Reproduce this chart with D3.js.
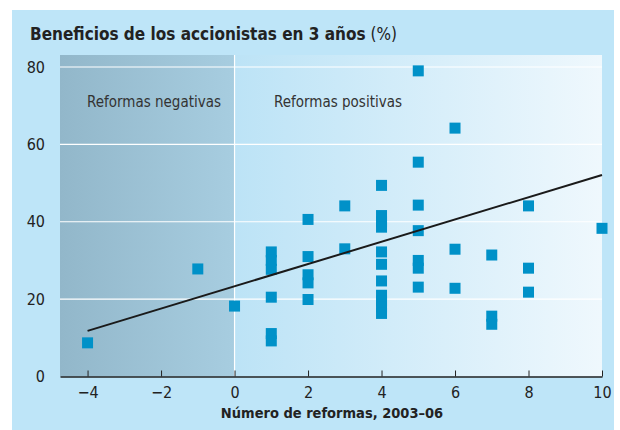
<!DOCTYPE html>
<html>
<head>
<meta charset="utf-8">
<script src="https://cdn.jsdelivr.net/npm/d3@7"></script>
<style>
  html, body { margin: 0; padding: 0; background: #fff; }
  svg { display: block; }
  text { font-family: "Liberation Sans Narrow", "DejaVu Sans Condensed", "Open Sans", sans-serif; fill: #222; }
</style>
</head>
<body>
<svg id="chart" width="620" height="430"></svg>
<script>
// Número de reformas (eje x) para cada punto
const reformas = [
  -4, -1, 0,
  1, 1, 1, 1, 1, 1,
  2, 2, 2, 2, 2,
  3, 3,
  4, 4, 4, 4, 4, 4, 4, 4, 4, 4, 4,
  5, 5, 5, 5, 5, 5, 5,
  6, 6, 6,
  7, 7, 7,
  8, 8, 8,
  10
];
// Beneficios de los accionistas en 3 años (%)
const beneficios = [
  8.7, 27.8, 18.2,
  32.2, 30, 27.7, 20.5, 11.1, 9.2,
  40.6, 31, 26.3, 24.2, 19.9,
  44.1, 33,
  49.4, 41.6, 40, 38.6, 32.2, 29, 24.7, 21, 19.5, 18, 16.3,
  79, 55.4, 44.3, 37.7, 30, 28, 23.1,
  64.2, 32.9, 22.8,
  31.4, 15.6, 13.5,
  44.1, 28, 21.8,
  38.3
];
// Recta de tendencia (extremos)
const tendenciaX = [-4, 10];
const tendenciaY = [11.8, 52.1];

const xTicks = [-4, -2, 0, 2, 4, 6, 8, 10];
const yTicks = [0, 20, 40, 60, 80];

const svg = d3.select('#chart');
const margin = { left: 60, right: 18, top: 55, bottom: 54 };
const W = 620, H = 430;

// Fondo azul
svg.append('rect')
  .attr('x', 12).attr('y', 10)
  .attr('width', 602).attr('height', 420)
  .attr('fill', '#bee5f8');

const defs = svg.append('defs');
const gNeg = defs.append('linearGradient').attr('id', 'gNeg');
gNeg.append('stop').attr('offset', '0%').attr('stop-color', '#92b7ca');
gNeg.append('stop').attr('offset', '100%').attr('stop-color', '#a7cde0');
const gPos = defs.append('linearGradient').attr('id', 'gPos');
gPos.append('stop').attr('offset', '0%').attr('stop-color', '#bce3f6');
gPos.append('stop').attr('offset', '100%').attr('stop-color', '#eff8fd');

// Escalas
const x = d3.scaleLinear()
  .domain([-4.75, 10])
  .range([margin.left, W - margin.right]);
const y = d3.scaleLinear()
  .domain([0, 80])
  .range([376.5, 67]);
const plotTop = margin.top;

// Zonas de reformas negativas y positivas
svg.append('rect')
  .attr('x', x(-4.75)).attr('y', plotTop)
  .attr('width', x(0) - x(-4.75)).attr('height', y(0) - plotTop)
  .attr('fill', 'url(#gNeg)');
svg.append('rect')
  .attr('x', x(0)).attr('y', plotTop)
  .attr('width', x(10) - x(0)).attr('height', y(0) - plotTop)
  .attr('fill', 'url(#gPos)');

// Líneas de cuadrícula
svg.append('g')
  .selectAll('line')
  .data(yTicks.filter(d => d > 0))
  .join('line')
  .attr('x1', x(-4.75)).attr('x2', x(10))
  .attr('y1', d => y(d)).attr('y2', d => y(d))
  .attr('stroke', '#fff').attr('stroke-width', 1.2);

svg.append('line')
  .attr('x1', x(0)).attr('x2', x(0))
  .attr('y1', plotTop).attr('y2', y(0))
  .attr('stroke', '#fff').attr('stroke-width', 1.2);

// Etiquetas de zona
svg.append('text')
  .attr('x', 154).attr('y', 107)
  .attr('text-anchor', 'middle')
  .style('font-size', '15px').style('fill', '#333')
  .text('Reformas negativas');
svg.append('text')
  .attr('x', 338).attr('y', 107)
  .attr('text-anchor', 'middle')
  .style('font-size', '15px').style('fill', '#333')
  .text('Reformas positivas');

// Eje x
const xAxis = d3.axisBottom(x)
  .tickValues(xTicks)
  .tickSizeInner(-6)
  .tickSizeOuter(0)
  .tickPadding(10)
  .tickFormat(d => d < 0 ? '\u2212' + Math.abs(d) : d);
const gx = svg.append('g')
  .attr('transform', `translate(0,${y(0)})`)
  .call(xAxis);
gx.select('.domain').attr('stroke', '#222').attr('stroke-width', 1.5);
gx.selectAll('.tick line').attr('stroke', '#222').attr('stroke-width', 1);
gx.selectAll('.tick text')
  .style('font-size', '16px').style('fill', '#222')
  .attr('font-family', null);

// Eje y (solo etiquetas)
const yAxis = d3.axisLeft(y)
  .tickValues(yTicks)
  .tickSize(0)
  .tickPadding(15);
const gy = svg.append('g')
  .attr('transform', `translate(${margin.left},0)`)
  .call(yAxis);
gy.select('.domain').remove();
gy.selectAll('.tick text')
  .style('font-size', '16px').style('fill', '#222')
  .attr('font-family', null);

// Puntos cuadrados
const side = 11;
svg.append('g')
  .selectAll('rect')
  .data(reformas.map((r, i) => [r, beneficios[i]]))
  .join('rect')
  .attr('x', d => x(d[0]) - side / 2)
  .attr('y', d => y(d[1]) - side / 2)
  .attr('width', side).attr('height', side)
  .attr('fill', '#0091c8');

// Recta de tendencia
const line = d3.line()
  .x(d => x(d[0]))
  .y(d => y(d[1]));
svg.append('path')
  .datum(tendenciaX.map((v, i) => [v, tendenciaY[i]]))
  .attr('fill', 'none')
  .attr('stroke', '#1a1a1a')
  .attr('stroke-width', 2)
  .attr('d', line);

// Título
const title = svg.append('text')
  .attr('x', 30).attr('y', 40)
  .style('font-size', '17px');
title.append('tspan').style('font-weight', 'bold').text('Beneficios de los accionistas en 3 años');
title.append('tspan').style('font-weight', 'normal').text(' (%)');

// Título del eje x
svg.append('text')
  .attr('x', 332).attr('y', 418)
  .attr('text-anchor', 'middle')
  .style('font-size', '14.5px').style('font-weight', 'bold')
  .text('Número de reformas, 2003\u201306');
</script>
</body>
</html>
